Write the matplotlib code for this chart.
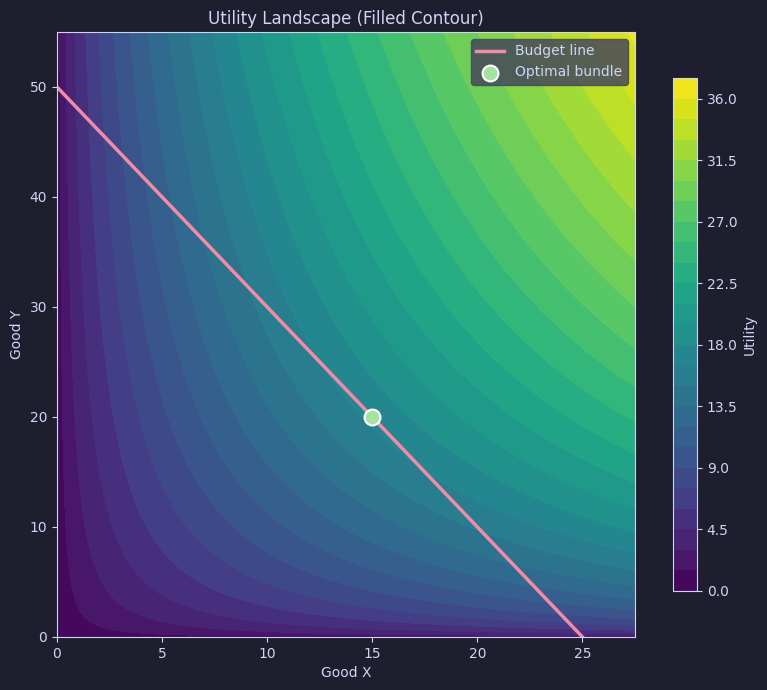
import matplotlib
matplotlib.use("Agg")
import matplotlib.pyplot as plt
import numpy as np

# Cobb-Douglas preferences and budget
alpha = 0.6
beta = 0.4
price_x = 2.0
price_y = 1.0
income = 50.0

x_max = 27.5
y_max = 55.0
n_levels = 25

budget_x = [0.0, 25.0]
budget_y = [50.0, 0.0]
optimal_x = 15.0
optimal_y = 20.0

bg = "#1e1e2e"
fg = "#cdd6f4"

x = np.linspace(0, x_max, 400)
y = np.linspace(0, y_max, 400)
X, Y = np.meshgrid(x, y)
U = X**alpha * Y**beta

fig = plt.figure(figsize=(7.67, 6.9), dpi=100, facecolor=bg)
ax = fig.add_axes([57 / 767, 53 / 690, 578 / 767, 605 / 690])
cax = fig.add_axes([673 / 767, 99 / 690, 24 / 767, 513 / 690])
ax.set_facecolor(bg)

cs = ax.contourf(X, Y, U, levels=n_levels, cmap="viridis")
ax.plot(budget_x, budget_y, color="#f38ba8", linewidth=2.5, label="Budget line")
ax.scatter([optimal_x], [optimal_y], s=130, color="#a6e3a1",
           edgecolor="white", linewidth=1.5, zorder=5, label="Optimal bundle")

ax.set_xlim(0, x_max)
ax.set_ylim(0, y_max)
ax.set_title("Utility Landscape (Filled Contour)", color=fg, fontsize=12)
ax.set_xlabel("Good X", color=fg)
ax.set_ylabel("Good Y", color=fg)
ax.tick_params(colors=fg)
for sp in ax.spines.values():
    sp.set_color(fg)

leg = ax.legend(loc="upper right", facecolor="#45475a", edgecolor="#45475a",
                framealpha=0.85, labelcolor=fg)

cb = fig.colorbar(cs, cax=cax)
cb.set_label("Utility", color=fg)
cb.ax.tick_params(colors=fg)
cb.outline.set_edgecolor(fg)

fig.savefig("out.png", dpi=100, facecolor=bg)
